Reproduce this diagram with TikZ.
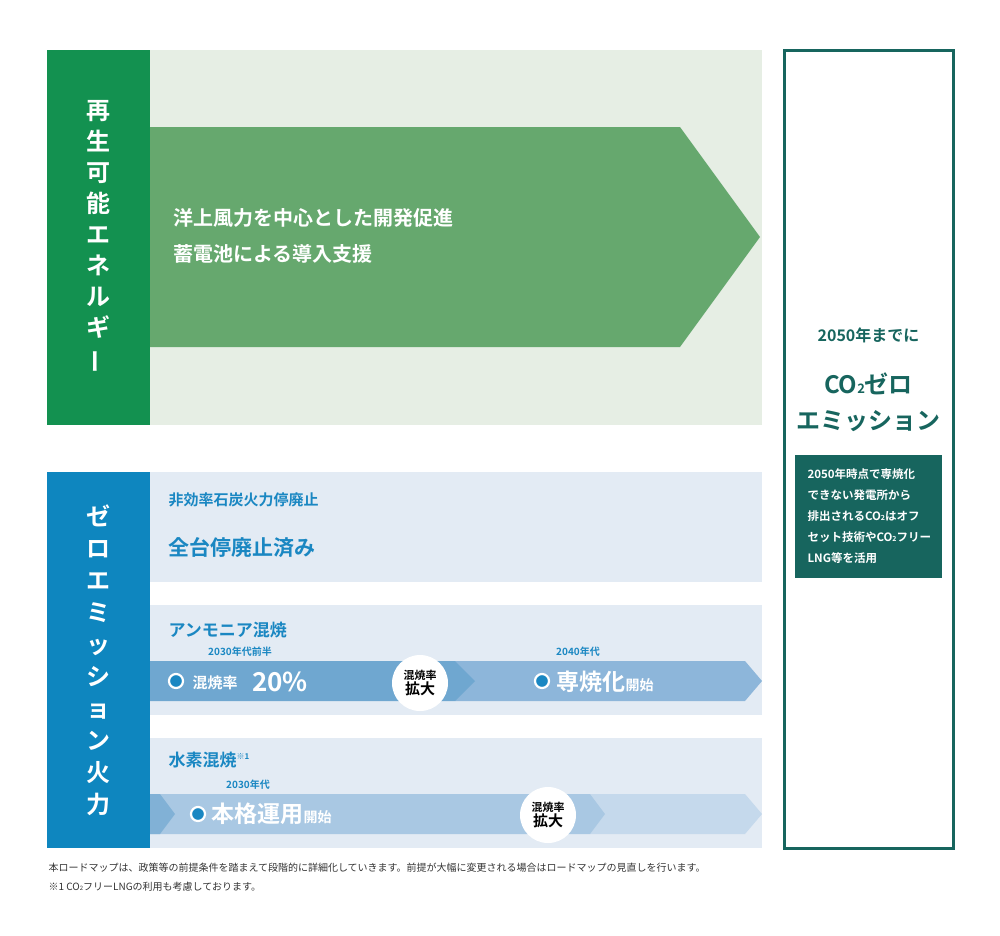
\documentclass[tikz,border=0pt]{standalone}
\usepackage{fontspec}
\usepackage{graphicx}
\setmainfont{Noto Sans CJK JP}[BoldFont={* Bold}]
\usetikzlibrary{positioning}
\definecolor{renewbg}{HTML}{E6EEE4}
\definecolor{renewband}{HTML}{139150}
\definecolor{renewarrow}{HTML}{66A86E}
\definecolor{zerogreen}{HTML}{17655E}
\definecolor{thermband}{HTML}{0E86BF}
\definecolor{thermbg}{HTML}{E3EBF4}
\definecolor{thermtext}{HTML}{1A87C2}
\definecolor{stepA}{HTML}{6FA7D0}
\definecolor{stepB}{HTML}{8DB6DA}
\definecolor{stepC}{HTML}{A9C8E3}
\definecolor{stepD}{HTML}{C5D9EC}
\tikzset{
  bandtext/.style={text=white,font=\bfseries\fontsize{24}{31}\selectfont,align=center},
  rowtitle/.style={anchor=west,text=thermtext,font=\bfseries\fontsize{17}{20}\selectfont},
  yeartag/.style={text=thermtext,font=\bfseries\fontsize{10}{12}\selectfont},
  dotmark/.style={circle,draw=white,line width=2.2pt,fill=thermtext,minimum size=14pt,inner sep=0pt},
  ratebubble/.style={circle,fill=white,minimum size=56pt,inner sep=0pt,align=center,font=\bfseries\fontsize{11}{15}\selectfont},
  whitebig/.style={anchor=west,text=white,font=\bfseries\fontsize{23}{26}\selectfont}
}
\newcommand{\vbar}{\rotatebox[origin=c]{90}{ー}}
\begin{document}
\begin{tikzpicture}[x=1pt,y=-1pt]
  \useasboundingbox (0,0) rectangle (1000,935);

  % renewable energy
  \fill[renewbg] (47,50) rectangle (762,425);
  \fill[renewband] (47,50) rectangle (150,425);
  \node[bandtext] (renewlabel) at (98.5,237) {再\\生\\可\\能\\エ\\ネ\\ル\\ギ\\\vbar};
  \fill[renewarrow] (150,127) -- (680,127) -- (760,237) -- (680,347) -- (150,347) -- cycle;
  \node[anchor=west,text=white,font=\bfseries\fontsize{20}{36}\selectfont,align=left]
    (renewplan) at (170,236) {洋上風力を中心とした開発促進\\蓄電池による導入支援};

  % zero emission box
  \draw[zerogreen,line width=3pt] (784,50) rectangle (953,848);
  \node[text=zerogreen,font=\bfseries\fontsize{16}{20}\selectfont] (by2050) at (868.5,335) {2050年までに};
  \node[text=zerogreen,font=\bfseries\fontsize{24}{36}\selectfont,align=center] (zeroem) at (868.5,402)
    {CO{\fontsize{13}{13}\selectfont 2}ゼロ\\エミッション};
  \fill[zerogreen] (795,455) rectangle (942,578);
  \node[text=white,font=\bfseries\fontsize{11.5}{21}\selectfont,align=left,anchor=west] (offset) at (804,516.5)
    {2050年時点で専焼化\\できない発電所から\\排出されるCO{\fontsize{7}{7}\selectfont 2}はオフ\\セット技術やCO{\fontsize{7}{7}\selectfont 2}フリー\\LNG等を活用};

  % zero emission thermal
  \fill[thermband] (47,472) rectangle (150,848);
  \node[bandtext,font=\bfseries\fontsize{24}{32}\selectfont] (thermlabel) at (98.5,660)
    {ゼ\\ロ\\エ\\ミ\\ッ\\シ\\ョ\\ン\\火\\力};
  \foreach \top in {472,605,738}
    \fill[thermbg] (150,\top) rectangle (762,\top+110);

  % coal
  \node[rowtitle,font=\bfseries\fontsize{15}{18}\selectfont] (coal) at (165,500) {非効率石炭火力停廃止};
  \node[rowtitle,font=\bfseries\fontsize{21}{24}\selectfont] (coaldone) at (165,548) {全台停廃止済み};

  % ammonia
  \node[rowtitle] (ammonia) at (165,630) {アンモニア混焼};
  \fill[stepB] (455,661) -- (745,661) -- (762,681) -- (745,701) -- (455,701) -- cycle;
  \fill[stepA] (150,661) -- (455,661) -- (475,681) -- (455,701) -- (150,701) -- cycle;
  \node[yeartag] (am2030) at (240,652) {2030年代前半};
  \node[dotmark] (amdotA) at (176,681) {};
  \node[whitebig,font=\bfseries\fontsize{15}{18}\selectfont] (amrate) at (189,683) {混焼率};
  \node[whitebig,font=\bfseries\fontsize{26}{28}\selectfont,inner sep=0pt] (am20) at (252,682) {20\%};
  \node[ratebubble] (amup) at (420,683) {混焼率\\{\fontsize{15}{16}\selectfont 拡大}};
  \node[yeartag] (am2040) at (578,652) {2040年代};
  \node[dotmark] (amdotB) at (542,681) {};
  \node[whitebig] (amfull) at (553,682) {専焼化{\fontsize{14}{16}\selectfont 開始}};

  % hydrogen
  \node[rowtitle] (hydrogen) at (165,760) {水素混焼{\fontsize{8}{8}\selectfont\raisebox{7pt}{※1}}};
  \fill[stepD] (590,794) -- (745,794) -- (762,814) -- (745,834) -- (590,834) -- cycle;
  \fill[stepC] (150,794) -- (590,794) -- (605,814) -- (590,834) -- (150,834) -- cycle;
  \fill[stepA!70!stepC] (150,794) -- (160,794) -- (175,814) -- (160,834) -- (150,834) -- cycle;
  \node[yeartag] (hy2030) at (248,785) {2030年代};
  \node[dotmark] (hydot) at (198,814) {};
  \node[whitebig] (hyuse) at (208,814) {本格運用{\fontsize{14}{16}\selectfont 開始}};
  \node[ratebubble] (hyup) at (548,815) {混焼率\\{\fontsize{15}{16}\selectfont 拡大}};

  % notes
  \node[anchor=west,font=\fontsize{10}{19}\selectfont,align=left,text=black!80] (notes) at (45,877)
    {本ロードマップは、政策等の前提条件を踏まえて段階的に詳細化していきます。前提が大幅に変更される場合はロードマップの見直しを行います。\\※1 CO{\fontsize{6}{6}\selectfont 2}フリーLNGの利用も考慮しております。};
\end{tikzpicture}
\end{document}
